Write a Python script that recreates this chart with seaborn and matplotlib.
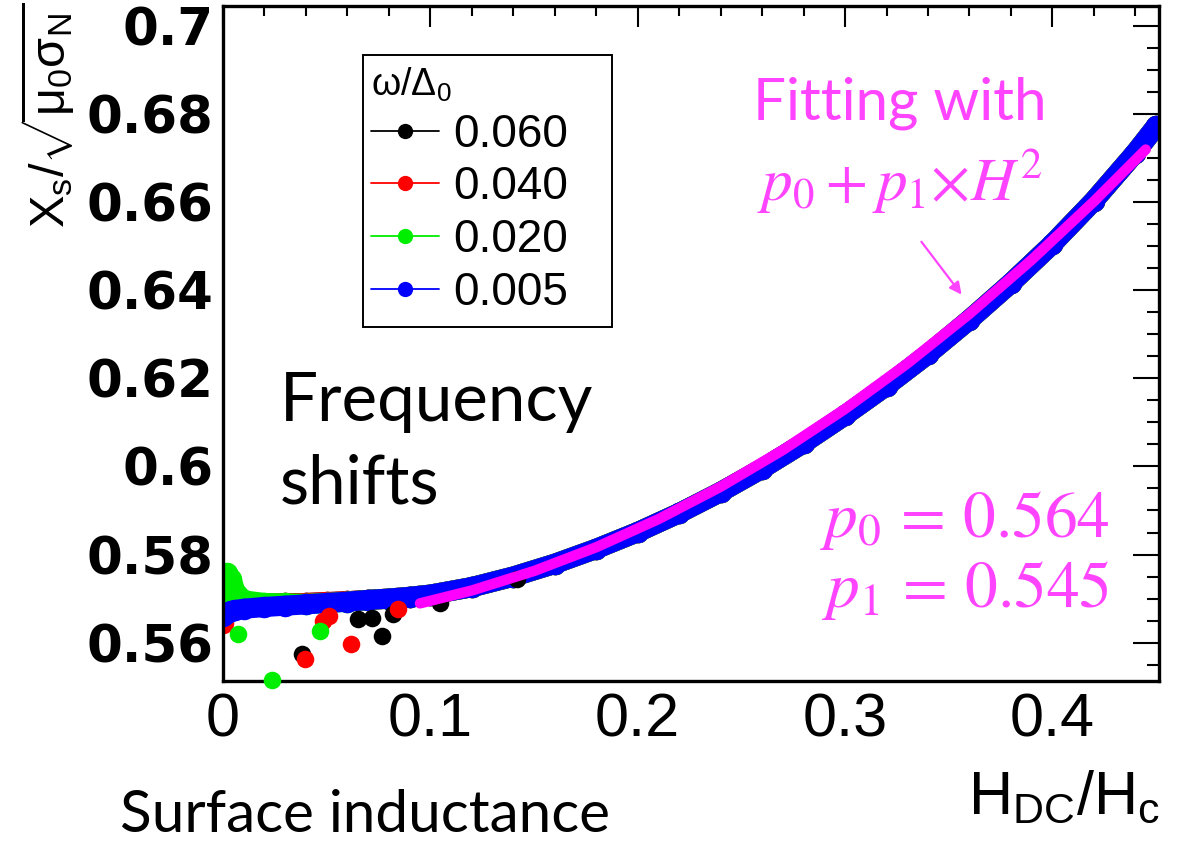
import matplotlib
matplotlib.use("Agg")
import matplotlib.pyplot as plt
import seaborn as sns
from matplotlib.lines import Line2D
from matplotlib.patches import Rectangle
from matplotlib.ticker import MultipleLocator, FuncFormatter

# H_DC / H_c sampling shared by the four sweeps
h_grid = [0.000, 0.002, 0.004, 0.006, 0.010, 0.020, 0.030, 0.040, 0.050, 0.060,
          0.070, 0.080, 0.090, 0.100, 0.120, 0.140, 0.160, 0.180, 0.200, 0.220,
          0.240, 0.260, 0.280, 0.300, 0.320, 0.340, 0.360, 0.380, 0.400, 0.420,
          0.440, 0.450]

# X_s / sqrt(mu0 sigma_N) for each omega / Delta_0
xs_0060 = [0.5690, 0.5735, 0.5728, 0.5712, 0.5694, 0.5688, 0.5689, 0.5690, 0.5692, 0.5694,
           0.5697, 0.5700, 0.5704, 0.5709, 0.5726, 0.5750, 0.5779, 0.5813, 0.5851, 0.5894,
           0.5942, 0.5995, 0.6053, 0.6116, 0.6183, 0.6255, 0.6333, 0.6416, 0.6505, 0.6603,
           0.6712, 0.6772]
xs_0040 = [0.5645, 0.5738, 0.5730, 0.5710, 0.5694, 0.5688, 0.5689, 0.5690, 0.5692, 0.5694,
           0.5697, 0.5700, 0.5704, 0.5709, 0.5726, 0.5750, 0.5779, 0.5813, 0.5851, 0.5894,
           0.5942, 0.5995, 0.6053, 0.6116, 0.6183, 0.6255, 0.6333, 0.6416, 0.6505, 0.6603,
           0.6712, 0.6772]
xs_0020 = [0.5712, 0.5758, 0.5745, 0.5716, 0.5696, 0.5690, 0.5689, 0.5688, 0.5690, 0.5693,
           0.5697, 0.5700, 0.5704, 0.5709, 0.5726, 0.5750, 0.5779, 0.5813, 0.5851, 0.5894,
           0.5942, 0.5995, 0.6053, 0.6116, 0.6183, 0.6255, 0.6333, 0.6416, 0.6505, 0.6603,
           0.6712, 0.6772]
xs_0005 = [0.5660, 0.5668, 0.5672, 0.5674, 0.5677, 0.5681, 0.5684, 0.5687, 0.5690, 0.5693,
           0.5697, 0.5700, 0.5704, 0.5709, 0.5726, 0.5750, 0.5779, 0.5813, 0.5851, 0.5894,
           0.5942, 0.5995, 0.6053, 0.6116, 0.6183, 0.6255, 0.6333, 0.6416, 0.6505, 0.6603,
           0.6712, 0.6772]

# isolated low-field points that fall off the main trace
h_off_0060 = [0.038, 0.065, 0.072, 0.0767, 0.082, 0.1047, 0.142]
xs_off_0060 = [0.5575, 0.5654, 0.5657, 0.5616, 0.5666, 0.5690, 0.5745]
h_off_0040 = [0.0396, 0.0617, 0.048, 0.051, 0.0844]
xs_off_0040 = [0.5564, 0.5598, 0.5650, 0.5660, 0.5677]
h_off_0020 = [0.007, 0.0236, 0.047]
xs_off_0020 = [0.5620, 0.5515, 0.5627]

series_labels = ["0.060", "0.040", "0.020", "0.005"]
series_colors = ["#000000", "#ff0000", "#00ee00", "#0000ff"]
series_values = [xs_0060, xs_0040, xs_0020, xs_0005]
off_h = [h_off_0060, h_off_0040, h_off_0020, []]
off_xs = [xs_off_0060, xs_off_0040, xs_off_0020, []]

# quadratic fit p0 + p1 * H^2
p0 = 0.564
p1 = 0.545
fit_h = [0.095, 0.120, 0.150, 0.180, 0.210, 0.240, 0.270, 0.300, 0.330,
         0.360, 0.390, 0.420, 0.445]
fit_xs = [p0 + p1 * h * h for h in fit_h]

W, H = 1187, 842
sns.set_theme(style="white")
plt.rcParams["mathtext.fontset"] = "custom"
plt.rcParams["mathtext.rm"] = "Liberation Sans"
plt.rcParams["mathtext.it"] = "Liberation Sans:italic"
plt.rcParams["font.family"] = ["Liberation Sans", "DejaVu Sans"]
for key in ("text.color", "axes.labelcolor", "xtick.color", "ytick.color",
            "axes.edgecolor"):
    plt.rcParams[key] = "black"

fig = plt.figure(figsize=(W / 100, H / 100), dpi=100)
fig.patch.set_facecolor("white")
ax = fig.add_axes([223 / W, 1 - 681 / H, (1159 - 223) / W, (681 - 6) / H])
ax.set_facecolor("white")

for vals, oh, ox, col in zip(series_values, off_h, off_xs, series_colors):
    sns.lineplot(x=h_grid, y=vals, ax=ax, color=col, lw=14.5, marker="o",
                 markersize=15.5, markeredgewidth=0, sort=False,
                 solid_capstyle="round", solid_joinstyle="round")
    if oh:
        sns.scatterplot(x=oh, y=ox, ax=ax, color=col, s=160, linewidth=0,
                        clip_on=False, zorder=3)

sns.lineplot(x=fit_h, y=fit_xs, ax=ax, color="#ff00ff", lw=7.5, zorder=5)

ax.set_xlim(0, 0.4514)
ax.set_ylim(0.5513, 0.7045)
ax.xaxis.set_major_locator(MultipleLocator(0.1))
ax.xaxis.set_minor_locator(MultipleLocator(0.02))
ax.yaxis.set_major_locator(MultipleLocator(0.02))
ax.yaxis.set_minor_locator(MultipleLocator(0.005))
fmt = FuncFormatter(lambda v, _: f"{v:.10g}" if abs(v) > 1e-9 else "0")
ax.xaxis.set_major_formatter(fmt)
ax.yaxis.set_major_formatter(fmt)
for s in ax.spines.values():
    s.set_color("black")
    s.set_linewidth(2.4)
ax.tick_params(axis="both", which="both", direction="in", top=True, right=True,
               color="black", labelcolor="black", width=1.5)
ax.tick_params(axis="y", which="major", length=19, pad=7)
ax.tick_params(axis="y", which="minor", length=9)
ax.tick_params(axis="x", which="major", length=15, pad=8)
ax.tick_params(axis="x", which="minor", length=7.5)
for lab in ax.get_yticklabels():
    lab.set_fontfamily("DejaVu Sans")
    lab.set_fontweight("bold")
    lab.set_fontsize(37)
for lab in ax.get_xticklabels():
    lab.set_fontfamily("Liberation Sans")
    lab.set_fontsize(44)
ax.set_xlabel("")
ax.set_ylabel("")

# legend box and entries
ax.add_patch(Rectangle((363 / W, 1 - 327 / H), (612 - 363) / W, (327 - 55) / H,
                       transform=fig.transFigure, facecolor="white",
                       edgecolor="black", lw=1.4, zorder=9, clip_on=False))
handles = [Line2D([], [], color=c, lw=1.3, marker="o", markersize=11,
                  markeredgewidth=0) for c in series_colors]
leg = ax.legend(handles, series_labels, title=r"$\mathregular{\omega/\Delta_0}$",
                loc="upper left", bbox_to_anchor=(366 / W, 1 - 61 / H),
                bbox_transform=fig.transFigure, frameon=False,
                borderpad=0.1, handlelength=1.5, handletextpad=0.3,
                labelspacing=0.19, borderaxespad=0, alignment="left",
                prop={"family": "Liberation Sans", "size": 33},
                title_fontproperties={"family": "Liberation Sans", "size": 27})
leg.set_zorder(10)

# axis titles
fig.text(48 / W, 1 - 3 / H, r"$\mathregular{X_s/\sqrt{\mu_0\sigma_N}}$",
         rotation=90, ha="center", va="top", fontsize=35,
         family="Liberation Sans")
fig.text(1160 / W, 1 - 798 / H, r"H$\mathregular{_{DC}}$/H$\mathregular{_c}$",
         ha="right", va="center", fontsize=44, family="Liberation Sans")

# annotations
pink = "#ff44ff"
fig.text(900 / W, 1 - 103 / H, "Fitting with", ha="center", va="center",
         fontsize=42, family="Lato", color=pink)
fig.text(900 / W, 1 - 182 / H, r"$p_0+p_1{\times}H^2$", ha="center", va="center",
         fontsize=44, color=pink, math_fontfamily="stix")
ax.annotate("", xy=(0.357, 0.6385), xytext=(0.336, 0.6515),
            arrowprops=dict(arrowstyle="-|>", color=pink, lw=1.6,
                            mutation_scale=18))
fig.text(1110 / W, 1 - 520 / H, r"$p_0\,=\,0.564$", ha="right", va="center",
         fontsize=47, color=pink, math_fontfamily="stix")
fig.text(1110 / W, 1 - 590 / H, r"$p_1\,=\,0.545$", ha="right", va="center",
         fontsize=47, color=pink, math_fontfamily="stix")

fig.text(280 / W, 1 - 402 / H, "Frequency", ha="left", va="center",
         fontsize=48.5, family="Lato", color="black")
fig.text(280 / W, 1 - 484 / H, "shifts", ha="left", va="center",
         fontsize=48.5, family="Lato", color="black")
fig.text(120 / W, 1 - 815 / H, "Surface inductance", ha="left", va="center",
         fontsize=42, family="Lato", color="black")

fig.savefig("out.png", dpi=100, facecolor="white")
